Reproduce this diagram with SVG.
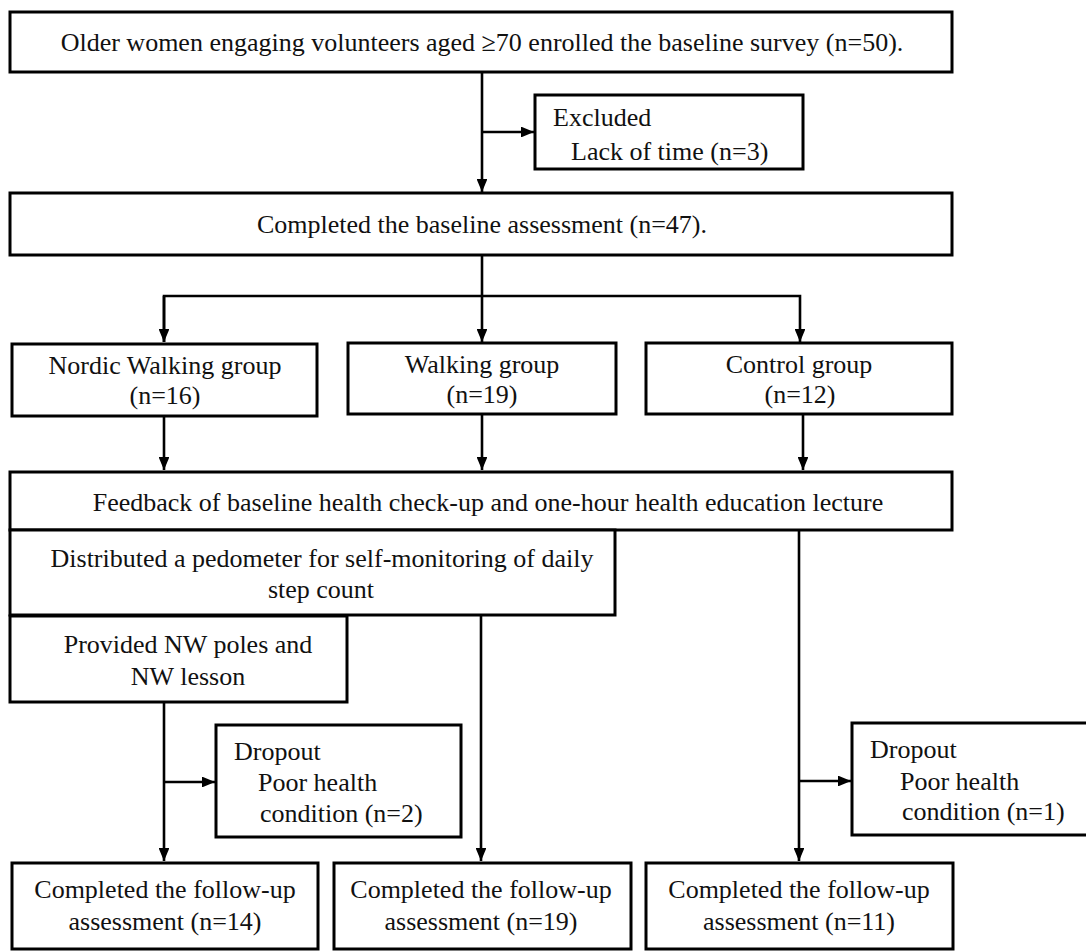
<svg xmlns="http://www.w3.org/2000/svg" width="1086" height="951" viewBox="0 0 1086 951">
<style>
.box{fill:#fff;stroke:#000;stroke-width:3}
.t{font-family:"Liberation Serif","Times New Roman",serif;font-size:26px;fill:#111}
.c{text-anchor:middle}
.ln{fill:none;stroke:#000;stroke-width:2.6}
</style>
<defs>
<marker id="ah" viewBox="0 0 12 10" refX="12" refY="5" markerWidth="5" markerHeight="4.2" markerUnits="strokeWidth" orient="auto">
<path d="M0,0 L12,5 L0,10 Z" fill="#000"/>
</marker>
</defs>
<rect width="1086" height="951" fill="#fff"/>
<g id="connectors">
<path class="ln" d="M482,72 V192" marker-end="url(#ah)"/>
<path class="ln" d="M482,132 H534" marker-end="url(#ah)"/>
<path class="ln" d="M482,255 V342" marker-end="url(#ah)"/>
<path class="ln" d="M164,342 V296 H800 V342" marker-end="url(#ah)"/>
<path class="ln" d="M164,296 V342" marker-end="url(#ah)"/>
<path class="ln" d="M164,416 V470" marker-end="url(#ah)"/>
<path class="ln" d="M482,414 V470" marker-end="url(#ah)"/>
<path class="ln" d="M803,414 V470" marker-end="url(#ah)"/>
<path class="ln" d="M164,702 V861" marker-end="url(#ah)"/>
<path class="ln" d="M164,782 H215" marker-end="url(#ah)"/>
<path class="ln" d="M481,615 V861" marker-end="url(#ah)"/>
<path class="ln" d="M799,530 V861" marker-end="url(#ah)"/>
<path class="ln" d="M799,781 H851" marker-end="url(#ah)"/>
</g>
<g id="enrolled">
<rect class="box" x="10" y="12" width="942" height="60"/>
<text class="t c" x="482" y="51">Older women engaging volunteers aged ≥70 enrolled the baseline survey (n=50).</text>
</g>
<g id="excluded">
<rect class="box" x="535" y="95" width="268" height="74"/>
<text class="t" x="553" y="126">Excluded</text>
<text class="t" x="571" y="160">Lack of time (n=3)</text>
</g>
<g id="baseline">
<rect class="box" x="10" y="193" width="942" height="62"/>
<text class="t c" x="482" y="233">Completed the baseline assessment (n=47).</text>
</g>
<g id="nw-group">
<rect class="box" x="12" y="344" width="305" height="72"/>
<text class="t c" x="165" y="374">Nordic Walking group</text>
<text class="t c" x="165" y="404">(n=16)</text>
</g>
<g id="walking-group">
<rect class="box" x="348" y="343" width="268" height="71"/>
<text class="t c" x="482" y="373">Walking group</text>
<text class="t c" x="482" y="403">(n=19)</text>
</g>
<g id="control-group">
<rect class="box" x="646" y="343" width="306" height="71"/>
<text class="t c" x="799" y="373">Control group</text>
<text class="t c" x="800" y="403">(n=12)</text>
</g>
<g id="feedback">
<rect class="box" x="10" y="472" width="942" height="58"/>
<text class="t c" x="488" y="511">Feedback of baseline health check-up and one-hour health education lecture</text>
</g>
<g id="pedometer">
<rect class="box" x="10" y="530" width="605" height="85"/>
<text class="t c" x="322" y="567">Distributed a pedometer for self-monitoring of daily</text>
<text class="t c" x="321" y="598">step count</text>
</g>
<g id="nw-poles">
<rect class="box" x="10" y="616" width="337" height="86"/>
<text class="t c" x="188" y="653">Provided NW poles and</text>
<text class="t c" x="188" y="685">NW lesson</text>
</g>
<g id="dropout-nw">
<rect class="box" x="216" y="725" width="245" height="112"/>
<text class="t" x="234" y="760">Dropout</text>
<text class="t" x="258" y="791">Poor health</text>
<text class="t" x="260" y="822">condition (n=2)</text>
</g>
<g id="dropout-control">
<rect class="box" x="852" y="723" width="240" height="112"/>
<text class="t" x="870" y="758">Dropout</text>
<text class="t" x="900" y="790">Poor health</text>
<text class="t" x="902" y="820">condition (n=1)</text>
</g>
<g id="followup-nw">
<rect class="box" x="12" y="863" width="306" height="86"/>
<text class="t c" x="165" y="898">Completed the follow-up</text>
<text class="t c" x="165" y="930">assessment (n=14)</text>
</g>
<g id="followup-walking">
<rect class="box" x="334" y="863" width="297" height="86"/>
<text class="t c" x="481" y="898">Completed the follow-up</text>
<text class="t c" x="481" y="930">assessment (n=19)</text>
</g>
<g id="followup-control">
<rect class="box" x="646" y="863" width="307" height="86"/>
<text class="t c" x="799" y="898">Completed the follow-up</text>
<text class="t c" x="799" y="930">assessment (n=11)</text>
</g>
</svg>
